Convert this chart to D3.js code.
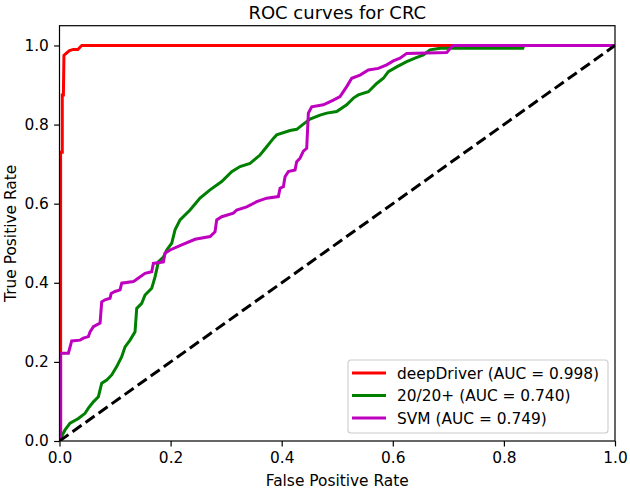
<!DOCTYPE html>
<html>
<head>
<meta charset="utf-8">
<script src="https://cdn.jsdelivr.net/npm/d3@7"></script>
<style>
  body { margin: 0; background: #fff; }
  svg { display: block; font-family: "DejaVu Sans", sans-serif; }
</style>
</head>
<body>
<svg id="chart"></svg>
<script>
// Chart size
const width = 630;
const height = 489;

// ROC points: [fpr, tpr]
const deepDriver = [
  [0, 0], [0.002, 0], [0.002, 0.73], [0.005, 0.73], [0.005, 0.875], [0.007, 0.875],
  [0.008, 0.975], [0.012, 0.98], [0.018, 0.987], [0.025, 0.99], [0.033, 0.99],
  [0.04, 1.0], [1, 1]
];

const twentyTwenty = [
  [0, 0], [0.002, 0.007], [0.010, 0.028], [0.019, 0.045], [0.034, 0.057], [0.046, 0.070],
  [0.052, 0.083], [0.061, 0.099], [0.070, 0.112], [0.076, 0.146], [0.085, 0.154],
  [0.094, 0.167], [0.103, 0.188], [0.112, 0.213], [0.118, 0.238], [0.127, 0.255],
  [0.136, 0.276], [0.139, 0.335], [0.148, 0.348], [0.154, 0.369], [0.166, 0.386],
  [0.172, 0.415], [0.178, 0.453], [0.187, 0.465], [0.193, 0.483], [0.202, 0.500],
  [0.208, 0.534], [0.217, 0.559], [0.235, 0.584], [0.253, 0.614], [0.271, 0.635],
  [0.292, 0.656], [0.310, 0.681], [0.325, 0.694], [0.343, 0.702], [0.361, 0.723],
  [0.373, 0.744], [0.385, 0.765], [0.391, 0.774], [0.415, 0.785], [0.427, 0.788],
  [0.439, 0.801], [0.451, 0.814], [0.469, 0.824], [0.481, 0.829], [0.499, 0.833],
  [0.517, 0.850], [0.529, 0.867], [0.538, 0.875], [0.556, 0.883], [0.571, 0.904],
  [0.583, 0.917], [0.592, 0.934], [0.607, 0.946], [0.625, 0.959], [0.640, 0.968],
  [0.655, 0.976], [0.667, 0.989], [0.685, 0.993], [0.834, 0.993], [0.836, 1.0], [1, 1]
];

const svm = [
  [0, 0], [0.002, 0], [0.002, 0.222], [0.016, 0.222], [0.022, 0.253], [0.037, 0.255],
  [0.043, 0.260], [0.052, 0.264], [0.055, 0.276], [0.061, 0.289], [0.073, 0.298],
  [0.076, 0.352], [0.082, 0.357], [0.091, 0.361], [0.093, 0.373], [0.100, 0.378],
  [0.109, 0.382], [0.112, 0.399], [0.133, 0.403], [0.139, 0.409], [0.154, 0.424],
  [0.166, 0.428], [0.169, 0.449], [0.187, 0.453], [0.190, 0.475], [0.199, 0.483],
  [0.220, 0.496], [0.244, 0.510], [0.271, 0.517], [0.280, 0.529], [0.283, 0.559],
  [0.292, 0.567], [0.313, 0.576], [0.319, 0.584], [0.337, 0.592], [0.355, 0.605],
  [0.373, 0.614], [0.394, 0.618], [0.397, 0.639], [0.403, 0.643], [0.406, 0.668],
  [0.412, 0.681], [0.424, 0.685], [0.427, 0.706], [0.433, 0.715], [0.439, 0.733],
  [0.445, 0.740], [0.448, 0.829], [0.454, 0.845], [0.475, 0.850], [0.493, 0.862],
  [0.505, 0.871], [0.517, 0.896], [0.526, 0.917], [0.541, 0.925], [0.556, 0.938],
  [0.574, 0.942], [0.589, 0.951], [0.601, 0.961], [0.613, 0.968], [0.625, 0.980],
  [0.697, 0.982], [0.706, 0.997], [0.710, 1.0], [1, 1]
];

const chance = [[0, 0], [1, 1]];

const series = [
  { name: "deepDriver (AUC = 0.998)", color: "#ff0000", points: deepDriver },
  { name: "20/20+ (AUC = 0.740)", color: "#008000", points: twentyTwenty },
  { name: "SVM (AUC = 0.749)", color: "#bf00bf", points: svm }
];

const xTicks = [0, 0.2, 0.4, 0.6, 0.8, 1.0];
const yTicks = [0, 0.2, 0.4, 0.6, 0.8, 1.0];

// Plot area
const plotLeft = 59.5, plotRight = 615, plotTop = 25.7, plotBottom = 441;
const fontSize = "15.4px";

const x = d3.scaleLinear().domain([0, 1]).range([plotLeft, plotRight]);
const y = d3.scaleLinear().domain([0, 1.05]).range([plotBottom, plotTop]);

const svg = d3.select("#chart")
    .attr("width", width)
    .attr("height", height);

svg.append("rect")
    .attr("width", width)
    .attr("height", height)
    .attr("fill", "#fff");

svg.append("defs").append("clipPath")
    .attr("id", "clip")
    .append("rect")
    .attr("x", plotLeft)
    .attr("y", plotTop)
    .attr("width", plotRight - plotLeft)
    .attr("height", plotBottom - plotTop);

const line = d3.line()
    .x(d => x(d[0]))
    .y(d => y(d[1]));

const plot = svg.append("g").attr("clip-path", "url(#clip)");

// Draw the curves
series.forEach(s => {
    plot.append("path")
        .datum(s.points)
        .attr("fill", "none")
        .attr("stroke", s.color)
        .attr("stroke-width", 3)
        .attr("stroke-linejoin", "miter")
        .attr("d", line);
});

// Chance diagonal
plot.append("path")
    .datum(chance)
    .attr("fill", "none")
    .attr("stroke", "#000")
    .attr("stroke-width", 3)
    .attr("stroke-dasharray", "11,5")
    .attr("d", line);

// Axes
const xAxis = d3.axisBottom(x)
    .tickValues(xTicks)
    .tickFormat(d3.format(".1f"))
    .tickSize(5.4)
    .tickPadding(5.2);

const yAxis = d3.axisLeft(y)
    .tickValues(yTicks)
    .tickFormat(d3.format(".1f"))
    .tickSize(5.4)
    .tickPadding(5.2);

const gx = svg.append("g")
    .attr("transform", `translate(0,${plotBottom})`)
    .call(xAxis);

const gy = svg.append("g")
    .attr("transform", `translate(${plotLeft},0)`)
    .call(yAxis);

[gx, gy].forEach(g => {
    g.select(".domain").remove();
    g.selectAll(".tick line").attr("stroke", "#000").attr("stroke-width", 1.2);
    g.selectAll(".tick text")
        .attr("fill", "#000")
        .style("font-size", fontSize)
        .style("font-family", "DejaVu Sans");
});

// Frame
svg.append("rect")
    .attr("x", plotLeft)
    .attr("y", plotTop)
    .attr("width", plotRight - plotLeft)
    .attr("height", plotBottom - plotTop)
    .attr("fill", "none")
    .attr("stroke", "#000")
    .attr("stroke-width", 1.2);

// Title and axis labels
svg.append("text")
    .attr("x", (plotLeft + plotRight) / 2)
    .attr("y", 19)
    .attr("text-anchor", "middle")
    .style("font-size", "18px")
    .text("ROC curves for CRC");

svg.append("text")
    .attr("x", (plotLeft + plotRight) / 2)
    .attr("y", 486)
    .attr("text-anchor", "middle")
    .style("font-size", fontSize)
    .text("False Positive Rate");

svg.append("text")
    .attr("transform", `translate(16,${(plotTop + plotBottom) / 2}) rotate(-90)`)
    .attr("text-anchor", "middle")
    .style("font-size", fontSize)
    .text("True Positive Rate");

// Legend
const legend = svg.append("g").attr("transform", "translate(348,360)");

legend.append("rect")
    .attr("width", 260)
    .attr("height", 73)
    .attr("rx", 3)
    .attr("fill", "#fff")
    .attr("fill-opacity", 0.8)
    .attr("stroke", "#cccccc")
    .attr("stroke-width", 1.1);

series.forEach((s, i) => {
    const ly = 13 + i * 22.5;
    legend.append("line")
        .attr("x1", 4)
        .attr("x2", 38)
        .attr("y1", ly)
        .attr("y2", ly)
        .attr("stroke", s.color)
        .attr("stroke-width", 3);
    legend.append("text")
        .attr("x", 49)
        .attr("y", ly + 5.5)
        .style("font-size", fontSize)
        .text(s.name);
});
</script>
</body>
</html>
